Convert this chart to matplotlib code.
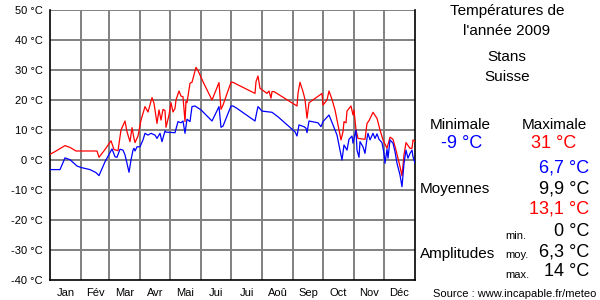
import matplotlib
matplotlib.use("Agg")
import matplotlib.pyplot as plt

plt.rcParams['font.family'] = ['Liberation Sans', 'DejaVu Sans']

months = ["Jan", "Fév", "Mar", "Avr", "Mai", "Jui", "Jui", "Aoû", "Sep", "Oct", "Nov", "Déc"]
month_starts = [0, 31, 59, 90, 120, 151, 181, 212, 243, 273, 304, 334, 365]
y_ticks = [50, 40, 30, 20, 10, 0, -10, -20, -30, -40]

max_days = [0, 5, 10, 15, 20, 26, 47, 49, 55, 61, 64, 68, 71, 75, 77, 80, 82, 84, 85, 88, 91, 95, 98,
            102, 104, 107, 109, 111, 113, 115, 116, 119, 121, 123, 125, 126, 129, 131, 133, 135, 136,
            137, 140, 142, 146, 148, 153, 162, 169, 171, 173, 181, 183, 187, 205, 206, 208, 210, 217,
            219, 221, 222, 224, 247, 248, 250, 253, 255, 257, 259, 270, 272, 273, 277, 279, 282, 285,
            288, 291, 293, 294, 296, 297, 300, 301, 303, 304, 306, 308, 315, 317, 319, 323, 327, 330,
            333, 337, 340, 343, 346, 350, 352, 354, 356, 360, 362, 363, 365]
max_temps = [1.9, 2.8, 3.8, 4.8, 4.2, 3.0, 3.0, 0.9, 3.5, 6.4, 3.5, 3.1, 10.0, 13.0, 9.4, 6.1, 10.8, 7.2,
             5.8, 8.0, 13.3, 17.8, 16.0, 20.8, 18.9, 12.2, 16.7, 13.3, 16.9, 16.5, 10.9, 15.0, 19.1,
             16.0, 17.2, 20.0, 23.0, 21.3, 21.1, 12.8, 19.5, 19.1, 25.6, 25.9, 30.9, 29.8, 26.1, 20.0,
             25.8, 16.9, 18.3, 25.9, 25.9, 25.2, 22.2, 26.1, 28.0, 23.9, 22.2, 23.0, 20.6, 22.8, 22.8,
             18.0, 22.2, 25.9, 22.8, 20.2, 13.9, 19.1, 21.7, 22.2, 18.3, 20.0, 23.0, 20.2, 16.7, 11.7,
             6.7, 9.4, 12.8, 12.4, 16.3, 17.6, 18.0, 15.0, 16.7, 10.0, 7.2, 6.9, 12.2, 13.1, 15.9,
             13.9, 10.0, 6.7, 3.9, 7.6, 6.9, 3.3, -2.2, -5.3, 1.7, 5.8, 3.9, 3.9, 6.7, 6.2]

min_days = [0, 10, 15, 20, 27, 31, 40, 46, 49, 55, 62, 65, 67, 70, 73, 75, 77, 79, 81, 83, 84, 85, 87,
            90, 93, 95, 98, 101, 105, 107, 110, 112, 115, 116, 125, 128, 131, 133, 135, 137, 140, 142,
            145, 151, 162, 169, 171, 173, 181, 183, 187, 205, 207, 208, 212, 222, 228, 245, 247, 249,
            254, 256, 257, 259, 268, 271, 273, 279, 283, 287, 290, 292, 294, 297, 299, 302, 303, 306,
            307, 309, 310, 313, 315, 317, 318, 320, 323, 325, 327, 329, 332, 334, 335, 337, 338, 340,
            343, 345, 347, 350, 352, 354, 356, 358, 360, 362, 363, 365]
min_temps = [-3.2, -3.2, 0.7, 0.1, -2.0, -2.5, -3.2, -4.2, -5.2, -0.6, 3.7, 1.1, 0.9, 3.6, 3.3, 1.7,
             -1.1, -4.1, 0.0, 3.3, 3.9, 3.0, 4.4, 4.4, 6.7, 8.9, 8.3, 8.9, 8.3, 7.2, 8.9, 6.1, 9.7, 9.3,
             9.1, 12.8, 12.4, 13.0, 8.9, 13.6, 12.8, 17.8, 18.0, 16.7, 13.0, 17.8, 10.9, 11.3, 18.0,
             18.0, 17.2, 13.0, 16.3, 17.8, 16.3, 15.9, 14.4, 9.4, 8.0, 11.7, 11.1, 10.6, 9.1, 13.0,
             12.4, 11.1, 12.8, 15.0, 11.7, 8.3, 3.3, 0.0, 5.0, 3.3, 6.9, 8.0, 5.6, 10.0, 3.3, 0.9, 6.1,
             4.4, 2.2, 7.2, 8.9, 6.7, 8.9, 7.2, 8.7, 6.9, 5.8, 2.2, -1.1, 3.6, 0.6, 6.7, 5.6, 2.8,
             -1.1, -5.0, -8.9, -1.1, 3.3, 0.6, 2.2, 3.3, 1.1, -1.1]

fig = plt.figure(figsize=(6, 3), dpi=100)
ax = fig.add_axes([50 / 600, 20 / 300, 365 / 600, 270 / 300])

ax.plot(max_days, max_temps, color="#ff0000", lw=0.9, zorder=3)
ax.plot(min_days, min_temps, color="#0000ff", lw=0.9, zorder=3)

ax.set_xlim(0, 365)
ax.set_ylim(-40, 50)

for t in y_ticks[:-1]:
    ax.axhline(t, color="#808080", lw=1.4, zorder=1)
for d in month_starts[1:-1]:
    ax.axvline(d, color="#808080", lw=1.4, zorder=1)

ax.set_yticks(y_ticks)
ax.set_yticklabels([f"{t} °C" for t in y_ticks], fontsize=8)
centers = [(month_starts[i] + month_starts[i + 1]) / 2 for i in range(12)]
ax.set_xticks(centers)
ax.set_xticklabels(months, fontsize=8)
ax.tick_params(length=0, pad=5)
ax.tick_params(axis='x', pad=6)

ax.spines['top'].set_visible(False)
for s in ['left', 'bottom', 'right']:
    ax.spines[s].set_color("black")
    ax.spines[s].set_linewidth(1.2)

def ftext(x, y, s, **kw):
    fig.text(x / 600, 1 - y / 300, s, va="center", **kw)

ftext(507, 11, "Températures de", ha="center", fontsize=11)
ftext(507, 31, "l'année 2009", ha="center", fontsize=11)
ftext(507, 57, "Stans", ha="center", fontsize=11)
ftext(507, 77, "Suisse", ha="center", fontsize=11)

ftext(460, 125, "Minimale", ha="center", fontsize=11)
ftext(554, 125, "Maximale", ha="center", fontsize=11)
ftext(462, 144, "-9 °C", ha="center", fontsize=13, color="#0000ff")
ftext(554, 144, "31 °C", ha="center", fontsize=13, color="#ff0000")

ftext(589, 168, "6,7 °C", ha="right", fontsize=13, color="#0000ff")
ftext(589, 189, "9,9 °C", ha="right", fontsize=13, color="black")
ftext(589, 209, "13,1 °C", ha="right", fontsize=13, color="#ff0000")
ftext(420, 189, "Moyennes", ha="left", fontsize=11)

ftext(420, 254, "Amplitudes", ha="left", fontsize=11)
ftext(505, 236, "min.", ha="left", fontsize=8)
ftext(505, 255, "moy.", ha="left", fontsize=8)
ftext(505, 275, "max.", ha="left", fontsize=8)
ftext(589, 232, "0 °C", ha="right", fontsize=13, color="black")
ftext(589, 252, "6,3 °C", ha="right", fontsize=13, color="black")
ftext(589, 272, "14 °C", ha="right", fontsize=13, color="black")

ftext(596, 294, "Source : www.incapable.fr/meteo", ha="right", fontsize=8)

fig.savefig("out.png", dpi=100, facecolor="white")
